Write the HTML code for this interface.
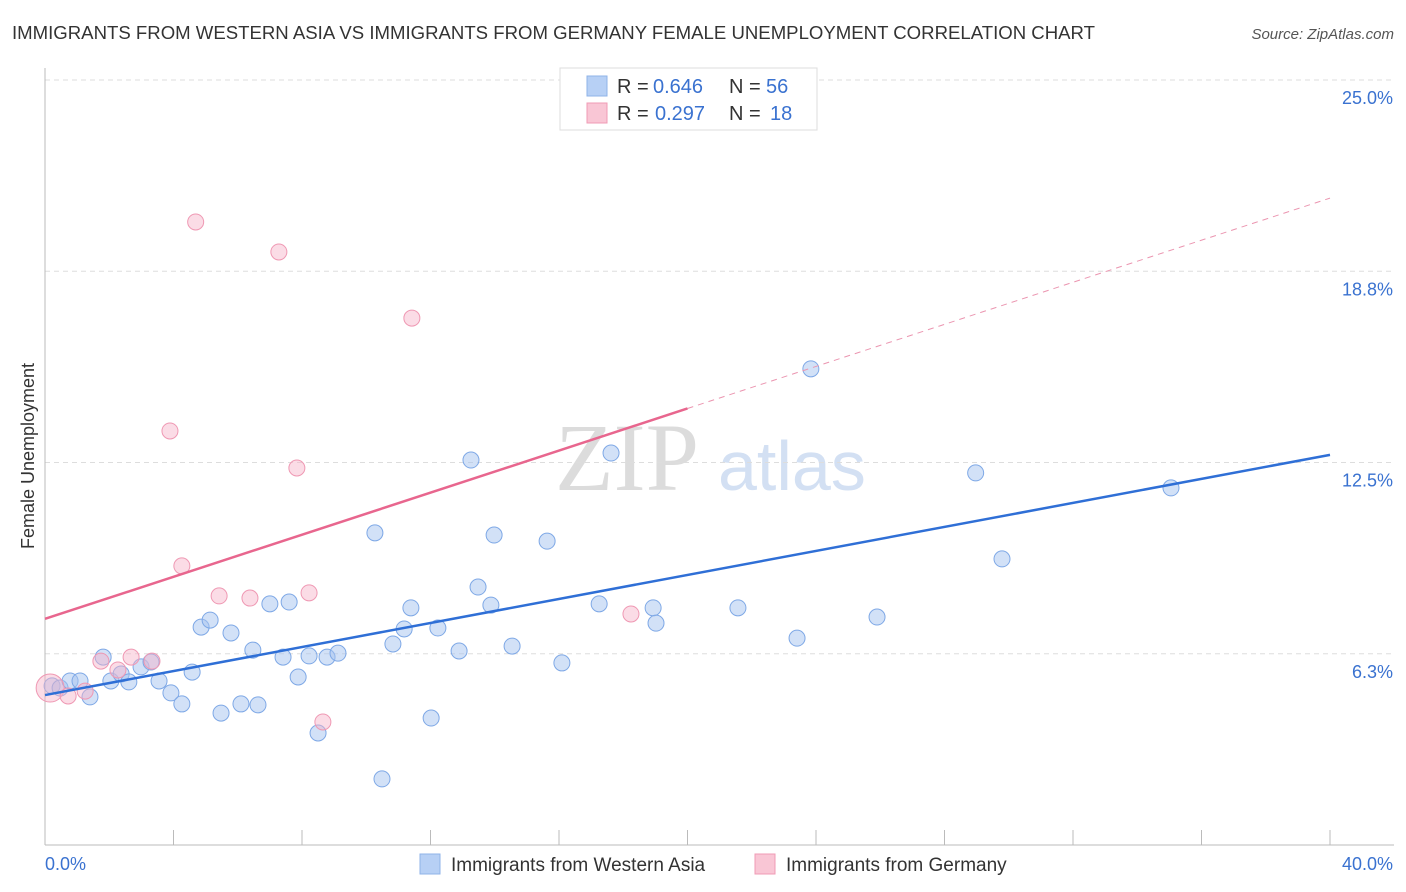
<!DOCTYPE html>
<html><head><meta charset="utf-8"><style>
body{margin:0;background:#fff;font-family:"Liberation Sans",sans-serif;}
svg{display:block}
</style></head><body>
<svg id="c" width="1406" height="892" xmlns="http://www.w3.org/2000/svg">
<text x="12" y="39" font-size="18" fill="#333" textLength="1083" lengthAdjust="spacingAndGlyphs">IMMIGRANTS FROM WESTERN ASIA VS IMMIGRANTS FROM GERMANY FEMALE UNEMPLOYMENT CORRELATION CHART</text>
<text x="1394" y="39" font-size="15" fill="#555" font-style="italic" text-anchor="end">Source: ZipAtlas.com</text>
<text x="34" y="456" font-size="18" fill="#333" text-anchor="middle" transform="rotate(-90 34 456)">Female Unemployment</text>
<text x="555" y="490" font-size="96" fill="#dcdcdc" font-family="Liberation Serif, serif">ZIP</text>
<text x="718" y="490" font-size="70" fill="#d3e0f3">atlas</text>
<g id="grid"></g><g id="pts"></g><g id="lines"></g>
<g>
<rect x="560" y="68" width="257" height="62" fill="#fff" stroke="#ddd"/>
<rect x="587" y="76" width="20" height="20" fill="#b7d0f5" stroke="#8fb3e8"/>
<rect x="587" y="103" width="20" height="20" fill="#f9c6d5" stroke="#f09bb5"/>
<text y="93" font-size="20" fill="#333"><tspan x="617">R =</tspan><tspan x="653" fill="#3a72d0">0.646</tspan><tspan x="729">N =</tspan><tspan x="766" fill="#3a72d0">56</tspan></text>
<text y="120" font-size="20" fill="#333"><tspan x="617">R =</tspan><tspan x="655" fill="#3a72d0">0.297</tspan><tspan x="729">N =</tspan><tspan x="770" fill="#3a72d0">18</tspan></text>
</g>
<g>
<rect x="420" y="854" width="20" height="20" fill="#b7d0f5" stroke="#8fb3e8"/>
<text x="451" y="871" font-size="19" fill="#333">Immigrants from Western Asia</text>
<rect x="755" y="854" width="20" height="20" fill="#f9c6d5" stroke="#f09bb5"/>
<text x="786" y="871" font-size="19" fill="#333">Immigrants from Germany</text>
</g>
</svg>
<script>
const blueX=[0.22,0.47,0.78,1.09,1.40,1.81,2.05,2.37,2.61,2.99,3.30,3.55,3.92,4.26,4.58,4.86,5.14,5.48,5.79,6.10,6.47,6.63,7.00,7.41,7.60,7.88,8.22,8.50,8.78,9.12,10.27,10.49,10.83,11.18,11.39,12.02,12.23,12.89,13.26,13.48,13.88,13.98,14.54,15.63,16.09,17.25,17.62,18.93,19.02,21.57,23.41,23.84,25.90,28.97,29.79,35.05];
const blueY=[5.20,5.13,5.36,5.36,4.84,6.14,5.36,5.59,5.33,5.82,5.98,5.36,4.97,4.61,5.65,7.12,7.35,4.31,6.93,4.61,6.37,4.58,7.88,6.14,7.94,5.49,6.18,3.66,6.14,6.27,10.20,2.16,6.57,7.06,7.75,4.15,7.09,6.34,12.58,8.43,7.84,10.13,6.50,9.93,5.95,7.88,12.81,7.75,7.25,7.75,6.76,15.56,7.45,12.16,9.35,11.67];
const pinkX=[0.16,0.72,1.25,1.74,2.27,2.68,3.33,3.89,4.26,4.69,5.42,6.38,7.28,7.84,8.22,8.65,11.42,18.24];
const pinkY=[5.13,4.87,5.03,6.01,5.72,6.14,6.01,13.53,9.12,20.36,8.14,8.07,19.38,12.32,8.24,4.02,17.22,7.55];
const blueLine=[4.90,12.75];
const pinkLine=[7.39,21.14];
const yTicks=[6.25,12.5,18.75,25.0];
const yTickLabels=["6.3%","12.5%","18.8%","25.0%"];
const xEnds=["0.0%","40.0%"];
const X=v=>45+v*32.125, Y=v=>845-v*30.6;
const NS="http://www.w3.org/2000/svg";
function mk(t,a,p){const e=document.createElementNS(NS,t);for(const k in a)e.setAttribute(k,a[k]);p.appendChild(e);return e;}
const g=document.getElementById('grid');
yTicks.forEach((t,i)=>{const yy=Y(t);
const l=mk('line',{x1:45,x2:1394,y1:yy,y2:yy,stroke:'#ddd','stroke-dasharray':'5,4'},g);


const tx=mk('text',{x:1393,y:yy+24,'font-size':18,fill:'#3a72d0','text-anchor':'end'},g);tx.textContent=yTickLabels[i];

});
mk('line',{x1:45,x2:45,y1:68,y2:845,stroke:'#bbb'},g);
mk('line',{x1:45,x2:1394,y1:845,y2:845,stroke:'#bbb'},g);
for(let i=1;i<=10;i++){mk('line',{x1:X(i*4),x2:X(i*4),y1:830,y2:845,stroke:'#bbb'},g);}
const a=mk('text',{x:45,y:870,'font-size':18,fill:'#3a72d0'},g);a.textContent=xEnds[0];


const b=mk('text',{x:1393,y:870,'font-size':18,fill:'#3a72d0','text-anchor':'end'},g);b.textContent=xEnds[1];


const p=document.getElementById('pts');
blueX.forEach((x,i)=>{const c=mk('circle',{cx:X(x),cy:Y(blueY[i]),r:8,fill:'rgba(165,196,240,0.5)',stroke:'#7ea8e6','stroke-width':1},p);

});
pinkX.forEach((x,i)=>{const c=mk('circle',{cx:X(x),cy:Y(pinkY[i]),r:i===0?14:8,fill:'rgba(246,178,200,0.45)',stroke:'#ef98b3','stroke-width':1},p);

});
const L=document.getElementById('lines');
const bl=mk('line',{x1:X(0),y1:Y(blueLine[0]),x2:X(40),y2:Y(blueLine[1]),stroke:'#2f6fd6','stroke-width':2.5},L);


const pm=pinkLine[0]+(pinkLine[1]-pinkLine[0])*0.5;
const pl=mk('line',{x1:X(0),y1:Y(pinkLine[0]),x2:X(20),y2:Y(pm),stroke:'#e8668e','stroke-width':2.5},L);


const pd=mk('line',{x1:X(20),y1:Y(pm),x2:X(40),y2:Y(pinkLine[1]),stroke:'#eb95b0','stroke-width':1,'stroke-dasharray':'6,5'},L);


</script>
</body></html>
